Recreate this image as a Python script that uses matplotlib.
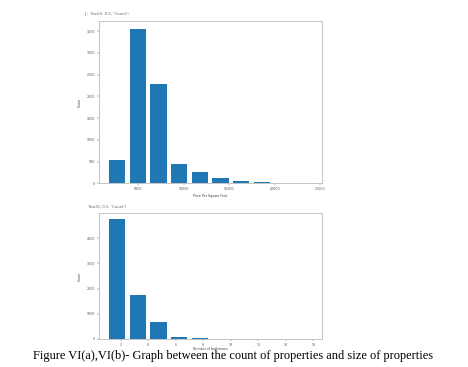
import numpy as np
import matplotlib
matplotlib.use("Agg")
import matplotlib.pyplot as plt

# histogram counts (10 bins each, rwidth 0.8)
price_range = (1550, 24240)
price_counts = [538, 3554, 2285, 454, 254, 115, 46, 23, 8, 8]
price_xticks = [5000, 10000, 15000, 20000, 25000]
price_yticks = [0, 500, 1000, 1500, 2000, 2500, 3000, 3500]

bath_range = (1, 16)
bath_counts = [4745, 1760, 684, 90, 40, 8, 2, 4, 1, 1]
bath_xticks = [2, 4, 6, 8, 10, 12, 14, 16]
bath_yticks = [0, 1000, 2000, 3000, 4000]

caption = "Figure VI(a),VI(b)- Graph between the count of properties and size of properties"
out_text = "Text(0, 0.5, 'Count')"

blue = "#1f77b4"
tick_size = 2.3

fig = plt.figure(figsize=(4.68, 3.67), dpi=100)


def draw_hist(ax, rng, counts, xticks, yticks, xlabel, xpad=2):
    edges = np.linspace(rng[0], rng[1], len(counts) + 1)
    centers = (edges[:-1] + edges[1:]) / 2
    ax.hist(centers, bins=edges, weights=counts, rwidth=0.8, color=blue)
    ax.set_xticks(xticks)
    ax.set_yticks(yticks)
    ax.tick_params(labelsize=tick_size, length=1.2, width=0.3, pad=1.5,
                   colors="#555555")
    for s in ax.spines.values():
        s.set_color("#bbbbbb")
        s.set_linewidth(0.6)
    ax.set_xlabel(xlabel, fontsize=tick_size, color="#444444", labelpad=xpad)
    ax.set_ylabel("Count", fontsize=tick_size, color="#444444", labelpad=3)


ax1 = fig.add_axes([0.211, 0.5005, 0.476, 0.4423])
draw_hist(ax1, price_range, price_counts, price_xticks, price_yticks,
          "Price Per Square Feet")

ax2 = fig.add_axes([0.211, 0.0763, 0.476, 0.3425])
draw_hist(ax2, bath_range, bath_counts, bath_xticks, bath_yticks,
          "Number of bathrooms", xpad=0.5)

# notebook output lines above each plot
fig.text(85 / 468, 1 - 13 / 367, "[;  " + out_text, fontsize=2.8,
         color="#666666", va="center")
fig.text(88 / 468, 1 - 207 / 367, out_text, fontsize=2.8,
         color="#666666", va="center")

fig.text(33 / 468, 1 - 356 / 367, caption, fontsize=8.9,
         family="Liberation Serif", va="center", ha="left")

fig.savefig("out.png", dpi=100, facecolor="white")
